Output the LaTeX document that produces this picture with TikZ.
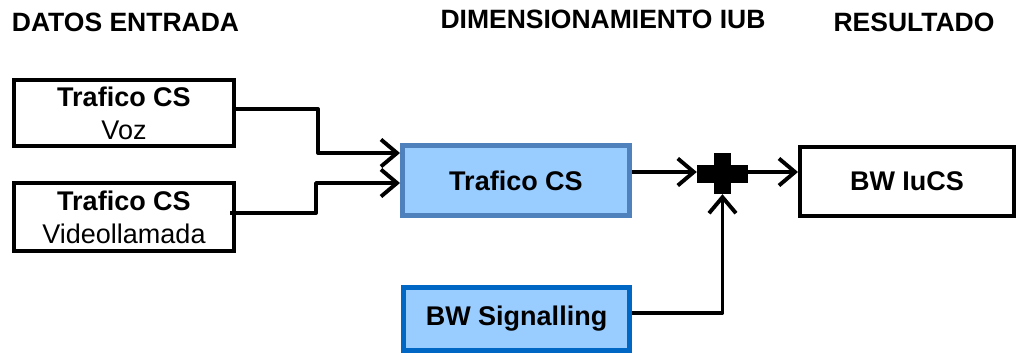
\documentclass[tikz,border=0pt]{standalone}
\usepackage{fontspec}
\setmainfont{Liberation Sans}
\usetikzlibrary{arrows.meta}
\definecolor{boxfill}{HTML}{99CCFF}
\definecolor{calcedge}{HTML}{4F81BD}
\definecolor{sigedge}{HTML}{0068C4}
\tikzset{
  txt/.style={font=\fontsize{27}{33}\selectfont, align=center},
  heading/.style={font=\fontsize{26.5}{30}\selectfont\bfseries, anchor=base},
  inbox/.style={draw=black, line width=4pt, fill=white, inner sep=0pt, txt},
  calcbox/.style={draw=calcedge, line width=5pt, fill=boxfill, inner sep=0pt, txt},
  sigbox/.style={draw=sigedge, line width=5pt, fill=boxfill, inner sep=0pt, txt},
  link/.style={line width=3.9pt, line join=round,
    -{Straight Barb[length=16pt,width=27pt,line width=3.9pt]}},
}
\begin{document}
\begin{tikzpicture}[x=1pt,y=-1pt]
\useasboundingbox (0,0) rectangle (1020,354);

% column headings
\node[heading] (h1) at (125.5,31) {DATOS ENTRADA};
\node[heading] (h2) at (603,28) {DIMENSIONAMIENTO IUB};
\node[heading] (h3) at (914,31) {RESULTADO};

% input boxes
\node[inbox, minimum width=220pt, minimum height=66pt] (voz) at (124,113)
  {\textbf{Trafico CS}\\Voz};
\node[inbox, minimum width=220pt, minimum height=68pt] (video) at (124,217)
  {\textbf{Trafico CS}\\Videollamada};

% dimensioning blocks
\node[calcbox, minimum width=227pt, minimum height=70pt] (tcs) at (516,180.5)
  {\textbf{Trafico CS}};
\node[sigbox, minimum width=226pt, minimum height=63pt] (sig) at (516.5,319)
  {\textbf{BW Signalling}};

% result
\node[inbox, minimum width=214pt, minimum height=69pt] (iucs) at (907,181.5)
  {\textbf{BW IuCS}};

% summing junction
\node[inner sep=0pt, minimum width=51pt, minimum height=41pt] (plus) at (722.5,173.5) {};
\fill ([xshift=-25.5pt,yshift=9pt]plus.center) rectangle ([xshift=25.5pt,yshift=-9pt]plus.center);
\fill ([xshift=-8.5pt,yshift=20.5pt]plus.center) rectangle ([xshift=8.5pt,yshift=-20.5pt]plus.center);

% connectors
\coordinate (vozout) at (234,109);
\coordinate (vidout) at (230,213);
\draw[link] (vozout) -| (318,153) -- (tcs.west |- 0,153);
\draw[link] (vidout) -| (316,183) -- (tcs.west |- 0,183);
\draw[link] (tcs.east |- 0,172) -- (plus.west |- 0,172);
\draw[link] (plus.east |- 0,172) -- (iucs.west |- 0,172);
\draw[link] (sig.east |- 0,313) -| (plus.south);
\end{tikzpicture}
\end{document}
